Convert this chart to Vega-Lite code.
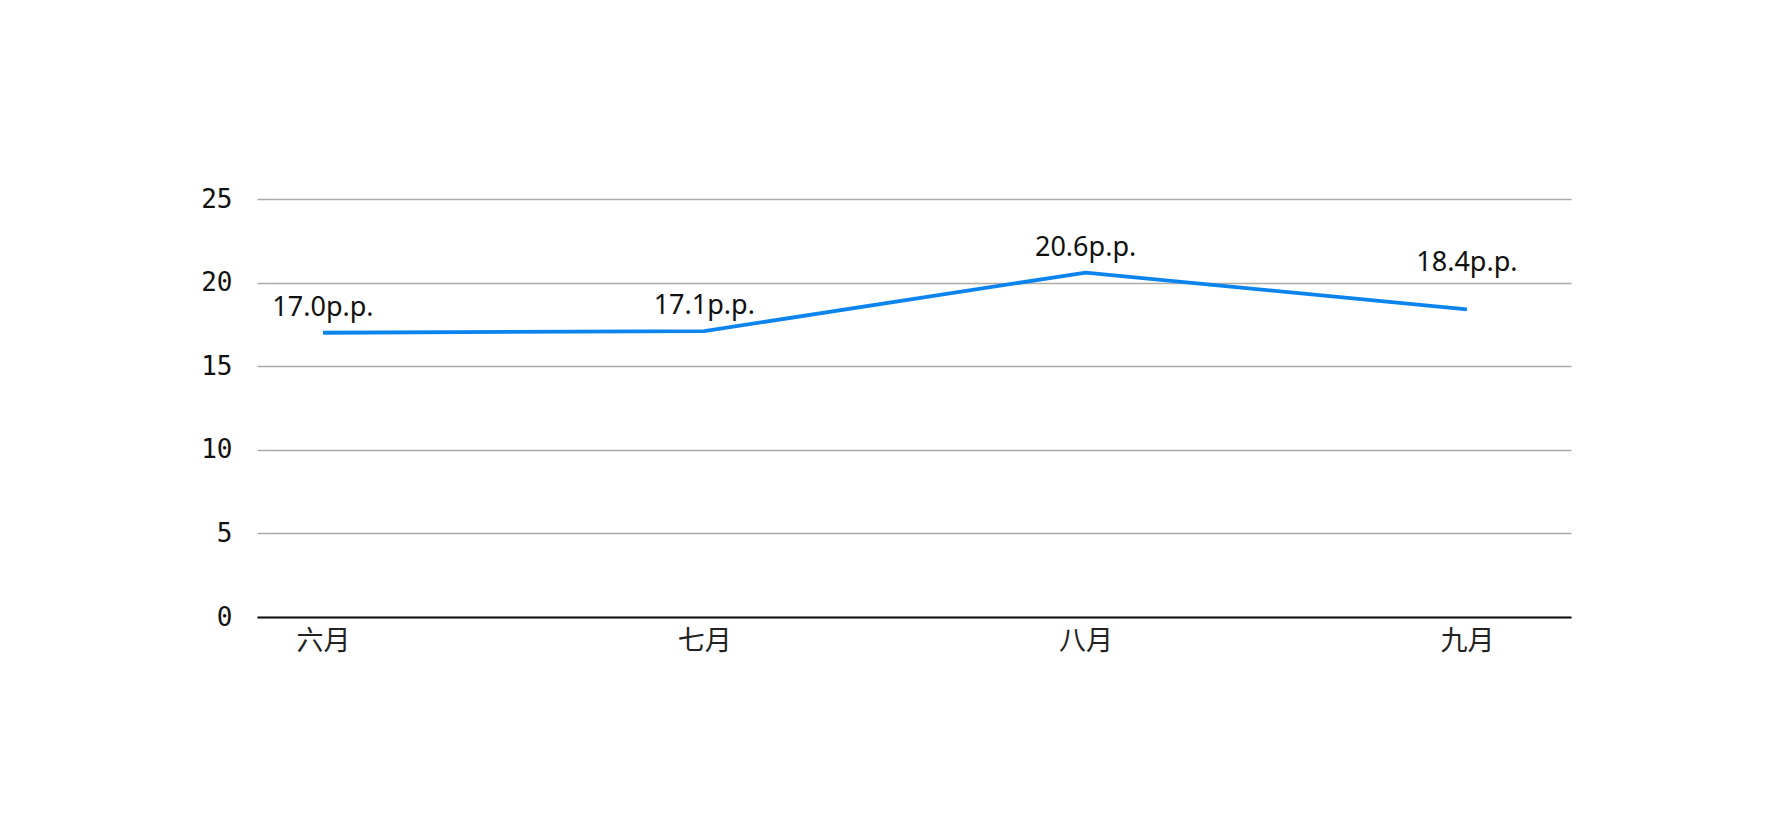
{
  "$schema": "https://vega.github.io/schema/vega-lite/v6.json",
  "width": 1314,
  "height": 418,
  "autosize": {"type": "none"},
  "padding": {"left": 257, "top": 199, "right": 200, "bottom": 205},
  "background": "white",
  "config": {"view": {"stroke": null}},
  "data": {
    "values": [
      {"month": "六月", "value": 17.0},
      {"month": "七月", "value": 17.1},
      {"month": "八月", "value": 20.6},
      {"month": "九月", "value": 18.4}
    ]
  },
  "encoding": {
    "x": {
      "field": "month",
      "type": "ordinal",
      "sort": ["六月", "七月", "八月", "九月"],
      "scale": {"type": "point", "padding": 0.223, "align": 0.388},
      "axis": {
        "title": null,
        "labelAngle": 0,
        "ticks": false,
        "domain": true,
        "domainColor": "#111111",
        "domainWidth": 2.2,
        "labelFont": "Noto Sans CJK SC",
        "labelFontSize": 27,
        "labelColor": "#222222",
        "labelPadding": 11,
        "grid": false
      }
    },
    "y": {
      "field": "value",
      "type": "quantitative",
      "scale": {"domain": [0, 25], "nice": false},
      "axis": {
        "title": null,
        "values": [0, 5, 10, 15, 20, 25],
        "ticks": false,
        "domain": false,
        "grid": true,
        "gridColor": "#aeaaa6",
        "gridWidth": 1.3,
        "labelFont": "DejaVu Sans Mono",
        "labelFontSize": 26,
        "labelColor": "#111111",
        "labelPadding": 25
      }
    }
  },
  "layer": [
    {
      "mark": {"type": "line", "color": "#0b84ee", "strokeWidth": 3.8}
    },
    {
      "transform": [
        {"filter": "datum.month !== '九月'"},
        {"calculate": "format(datum.value, '.1f') + 'p.p.'", "as": "label"}
      ],
      "mark": {
        "type": "text",
        "font": "Noto Sans",
        "fontSize": 27,
        "color": "#111111",
        "align": "center",
        "baseline": "alphabetic",
        "dy": -17
      },
      "encoding": {
        "text": {"field": "label", "type": "nominal"}
      }
    },
    {
      "transform": [
        {"filter": "datum.month === '九月'"},
        {"calculate": "format(datum.value, '.1f') + 'p.p.'", "as": "label"}
      ],
      "mark": {
        "type": "text",
        "font": "Noto Sans",
        "fontSize": 27,
        "color": "#111111",
        "align": "center",
        "baseline": "alphabetic",
        "dy": -38
      },
      "encoding": {
        "text": {"field": "label", "type": "nominal"}
      }
    }
  ]
}
